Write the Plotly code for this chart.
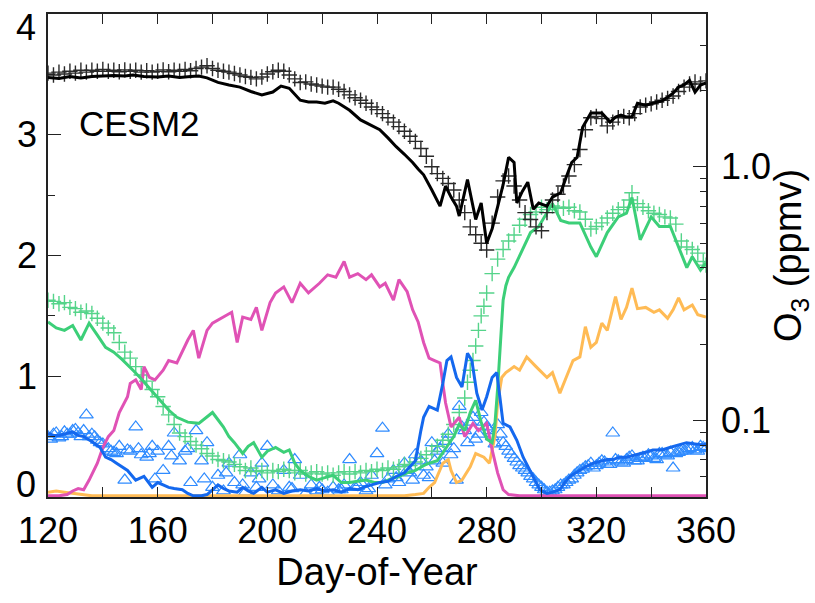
import plotly.graph_objects as go

# ---------------- data ----------------
# O3 (ppmv, right log axis): model line and observations (+)
o3_line_days = [120,124,128,132,136,140,144,148,151,155,160,164,168,172,175,178,182,186,190,194,
                198,202,205,208,212,215,218,221,224,226,230,234,238,241,244,247,250,253,255,257,
                260,263,265,267,269,270,273,276,278,280,282,284,286,288,290,291,293,295,297,299,
                302,304,307,309,311,313,315,318,320,322,325,327,329,331,333,335,338,341,344,346,
                348,350,352,354,356,358,360]
o3_line_vals = [2.25,2.23,2.27,2.24,2.27,2.28,2.29,2.28,2.30,2.27,2.26,2.28,2.25,2.27,2.28,2.24,2.15,2.10,2.06,1.98,
                1.92,1.97,2.08,2.04,1.83,1.80,1.80,1.78,1.82,1.78,1.67,1.53,1.45,1.40,1.30,1.20,1.12,1.04,0.98,0.93,
                0.81,0.70,0.84,0.76,0.70,0.64,0.89,0.62,0.72,0.50,0.57,0.70,0.85,1.09,1.04,0.72,0.80,0.87,0.68,0.72,
                0.70,0.76,0.79,0.91,1.04,1.09,1.43,1.63,1.63,1.63,1.50,1.57,1.60,1.57,1.57,1.78,1.75,1.78,1.82,1.88,
                1.95,2.06,2.10,2.19,1.97,2.10,2.14]

o3_obs_days = list(range(120, 361, 2))
o3_obs_vals = [2.34,2.30,2.36,2.32,2.38,2.34,2.40,2.36,2.40,2.38,
               2.42,2.38,2.40,2.37,2.41,2.38,2.40,2.36,2.39,2.36,
               2.38,2.41,2.37,2.40,2.38,2.42,2.39,2.44,2.47,2.50,
               2.44,2.40,2.38,2.36,2.33,2.30,2.27,2.25,2.22,2.26,
               2.32,2.37,2.40,2.38,2.30,2.22,2.15,2.16,2.12,2.10,
               2.08,2.06,2.06,2.02,1.98,1.92,1.87,1.83,1.78,1.72,
               1.68,1.62,1.56,1.50,1.44,1.38,1.32,1.26,1.18,1.10,
               1.00,0.94,0.90,0.86,0.81,0.74,0.66,0.58,0.54,0.50,
               0.47,0.60,0.76,0.88,0.92,0.84,0.74,0.66,0.62,0.58,
               0.56,0.66,0.74,0.78,0.84,0.92,1.02,1.17,1.40,1.56,
               1.58,1.55,1.45,1.50,1.56,1.58,1.56,1.62,1.72,1.75,
               1.77,1.80,1.83,1.86,1.90,1.98,2.06,2.12,2.16,2.12,
               2.18]

# green: model line and observations (+), left axis
green_line_days = [120,123,126,129,132,135,138,141,144,147,151,154,157,161,164,167,171,175,178,180,
                   182,184,186,188,191,193,195,198,200,203,206,208,210,212,215,218,221,224,227,230,
                   233,236,239,242,245,248,251,254,257,259,262,265,268,270,272,274,276,278,280,282,
                   283,284,285,286,287,288,290,293,296,299,302,304,307,310,314,318,320,324,328,331,
                   333,336,340,343,347,349,353,355,358,360]
green_line_vals = [1.45,1.40,1.38,1.42,1.30,1.44,1.34,1.24,1.20,1.14,1.05,0.98,0.90,0.80,0.72,0.66,0.62,0.61,0.66,0.70,
                   0.64,0.58,0.50,0.45,0.36,0.42,0.45,0.33,0.38,0.41,0.37,0.39,0.28,0.22,0.17,0.14,0.16,0.18,0.12,0.12,
                   0.13,0.14,0.12,0.12,0.15,0.17,0.20,0.22,0.26,0.28,0.30,0.40,0.50,0.60,0.55,0.70,0.80,0.62,0.48,0.45,
                   0.60,0.90,1.30,1.63,1.75,1.82,1.90,2.05,2.19,2.24,2.35,2.43,2.29,2.27,2.27,2.07,1.99,2.19,2.32,2.35,
                   2.48,2.13,2.32,2.24,2.24,2.13,1.90,1.99,1.88,1.94]

green_obs_days = [120,122,124,126,128,130,132,134,136,138,140,142,144,146,148,150,152,154,156,158,
                  160,162,164,166,168,170,172,174,176,178,180,182,184,186,188,190,192,194,196,198,
                  200,202,204,206,208,210,212,214,216,218,220,222,224,226,228,230,232,234,236,238,
                  240,242,244,246,248,250,252,254,256,258,260,262,264,266,268,270,272,273,274,275,
                  276,277,278,279,280,282,284,286,288,290,292,294,296,298,300,302,304,306,308,310,
                  312,314,316,318,320,322,324,326,328,330,332,333,335,337,339,341,343,345,347,349,
                  351,353,355,357,359,360]
green_obs_vals = [1.63,1.62,1.60,1.61,1.57,1.56,1.53,1.54,1.52,1.48,1.44,1.40,1.36,1.28,1.20,1.15,1.08,1.01,0.96,0.89,
                  0.83,0.75,0.68,0.60,0.53,0.50,0.46,0.43,0.40,0.36,0.34,0.31,0.30,0.29,0.27,0.25,0.22,0.24,0.21,0.22,
                  0.20,0.22,0.21,0.23,0.22,0.20,0.22,0.19,0.20,0.21,0.19,0.20,0.18,0.20,0.21,0.19,0.21,0.20,0.22,0.21,
                  0.23,0.22,0.24,0.23,0.25,0.27,0.26,0.29,0.32,0.35,0.38,0.42,0.47,0.52,0.60,0.70,0.82,0.95,1.05,1.13,
                  1.25,1.38,1.50,1.58,1.69,1.85,1.97,2.05,2.12,2.17,2.25,2.30,2.34,2.36,2.40,2.38,2.41,2.40,2.39,2.40,
                  2.37,2.36,2.30,2.22,2.24,2.27,2.31,2.35,2.38,2.40,2.46,2.52,2.43,2.40,2.37,2.35,2.34,2.32,2.31,2.26,
                  2.12,2.07,2.05,2.02,1.95,1.92]

# magenta line, left axis
magenta_days = [120,124,127,129,131,133,135,138,140,142,144,146,149,150,152,154,155,157,159,162,
                164,167,171,173,175,178,180,184,187,189,191,194,196,198,201,203,206,209,212,215,
                219,222,225,228,230,233,236,238,241,243,246,248,251,253,255,257,259,261,263,264,
                265,267,270,272,275,277,280,282,284,286,288,292,300,320,340,360]
magenta_vals = [0.01,0.01,0.02,0.05,0.07,0.06,0.14,0.28,0.41,0.50,0.55,0.70,0.83,0.94,0.97,0.89,1.08,0.99,0.97,1.05,
                1.13,1.11,1.30,1.38,1.15,1.38,1.44,1.49,1.53,1.28,1.49,1.47,1.57,1.38,1.61,1.69,1.74,1.61,1.77,1.69,
                1.77,1.84,1.82,1.95,1.82,1.85,1.80,1.84,1.74,1.77,1.63,1.80,1.70,1.55,1.45,1.28,1.15,1.13,1.11,0.94,
                0.78,0.58,0.66,0.50,0.61,0.55,0.61,0.39,0.20,0.06,0.02,0.01,0.01,0.01,0.01,0.01]

# orange line, left axis
orange_days = [120,123,126,129,132,136,145,160,180,200,220,240,250,254,257,259,261,264,266,267,
               269,271,274,276,279,281,283,284,285.5,287,290,292,294.6,298,302,304,306.7,309,311.5,314,
               316,318,320,322,324,327,329,331,333,335,338,341,343,346,348,350,352,355,357,360]
orange_vals = [0.04,0.05,0.04,0.03,0.02,0.01,0.01,0.01,0.01,0.01,0.01,0.01,0.01,0.02,0.03,0.08,0.12,0.28,0.31,0.22,
               0.12,0.14,0.25,0.36,0.33,0.28,0.50,0.78,0.99,1.03,1.08,1.05,1.16,1.08,0.99,1.03,0.86,0.99,1.13,1.16,
               1.41,1.24,1.28,1.44,1.38,1.66,1.47,1.57,1.73,1.56,1.57,1.53,1.55,1.48,1.55,1.65,1.55,1.59,1.51,1.49]

# blue: model line and observations (triangles), left axis
blue_line_days = [120,122,124,127,129,131,133,136,139,141,143,145,147,149,152,155,158,160,162,164,
                  166,169,171,173,176,178,180,182,184,186,189,191,193,195,198,200,203,206,209,212,
                  215,218,221,224,227,230,233,235,238,241,244,247,250,252,254,256,257,259,262,264,
                  265.5,267,269,271,273,274.6,276.4,278.3,280,282,283.7,284.8,286,288.5,291,293.3,295.8,298.3,299.4,302,
                  304,306.7,308.5,310.4,314,316,318.8,321,324,326,328.6,331,334.8,338,340.6,344,346.8,350,352.9,356,
                  358.9,360]
blue_line_vals = [0.53,0.51,0.51,0.53,0.54,0.51,0.50,0.46,0.41,0.33,0.31,0.28,0.25,0.22,0.14,0.17,0.08,0.12,0.10,0.08,
                  0.07,0.06,0.03,0.01,0.01,0.02,0.06,0.10,0.07,0.05,0.04,0.08,0.05,0.03,0.08,0.04,0.06,0.03,0.05,0.06,
                  0.05,0.07,0.05,0.06,0.04,0.07,0.06,0.08,0.10,0.12,0.13,0.17,0.20,0.25,0.30,0.55,0.66,0.75,0.72,0.94,
                  1.13,1.16,0.99,0.91,1.19,1.13,0.86,0.72,0.83,0.99,1.03,0.83,0.61,0.58,0.47,0.33,0.22,0.12,0.06,0.03,
                  0.04,0.06,0.12,0.17,0.22,0.25,0.28,0.29,0.31,0.31,0.33,0.33,0.35,0.37,0.39,0.39,0.41,0.43,0.45,0.44,
                  0.43,0.44]

blue_obs_days = list(range(120, 361, 2)) + [
    121,123,125,127,129,131,133,135,137,139,143,145,149,153,157,159,165,171,177,185,
    191,197,209,219,227,233,237,243,247,251,253,257,259,261,263,265,267,269,271,273,
    275,277,279,281,283,285,287,289,291,293,295,297,299,301,303,305,307,309,311,313,
    315,317,319,321,323,325,327,329,331,333,335,337,339,341,343,345,347,349,351,353,
    355,357,359]
blue_obs_vals = [0.50,0.52,0.49,0.54,0.52,0.56,0.50,0.68,0.52,0.47,
                 0.44,0.40,0.37,0.42,0.14,0.38,0.58,0.35,0.33,0.42,
                 0.38,0.22,0.42,0.53,0.30,0.38,0.12,0.55,0.30,0.45,
                 0.08,0.18,0.05,0.28,0.12,0.35,0.04,0.20,0.08,0.28,
                 0.42,0.10,0.05,0.22,0.08,0.31,0.18,0.03,0.10,0.05,
                 0.06,0.04,0.08,0.06,0.10,0.31,0.08,0.12,0.05,0.18,
                 0.36,0.57,0.15,0.22,0.12,0.28,0.20,0.35,0.30,0.25,
                 0.45,0.38,0.28,0.52,0.40,0.75,0.55,0.62,0.48,0.70,
                 0.58,0.50,0.60,0.45,0.38,0.32,0.26,0.22,0.17,0.12,
                 0.08,0.04,0.05,0.08,0.10,0.14,0.18,0.22,0.25,0.28,
                 0.26,0.30,0.27,0.53,0.30,0.28,0.33,0.30,0.32,0.33,
                 0.34,0.31,0.36,0.34,0.24,0.37,0.38,0.40,0.39,0.42,
                 0.40] + [
                 0.48,0.53,0.50,0.52,0.55,0.53,0.55,0.50,0.50,0.45,0.38,0.36,0.39,0.40,0.36,0.15,0.34,0.40,0.15,0.20,
                 0.10,0.15,0.07,0.08,0.06,0.09,0.07,0.10,0.16,0.22,0.14,0.18,0.16,0.30,0.40,0.46,0.35,0.14,0.58,0.45,
                 0.66,0.52,0.62,0.55,0.44,0.52,0.42,0.35,0.29,0.24,0.20,0.15,0.10,0.06,0.04,0.06,0.10,0.12,0.15,0.20,
                 0.23,0.26,0.24,0.28,0.29,0.27,0.31,0.29,0.31,0.34,0.30,0.33,0.35,0.32,0.36,0.35,0.37,0.36,0.38,0.39,
                 0.41,0.38,0.41]

x_tickvals = [120, 160, 200, 240, 280, 320, 360]
y_tickvals = [1, 2, 3]
y_end_labels = [(0, "0"), (4, "4")]   # end labels drawn nudged inward
y2_tickvals = [0.1, 1.0]
y2_ticktext = ["0.1", "1.0"]
y2_minor = [0.05, 0.06, 0.07, 0.08, 0.09, 0.2, 0.3, 0.4, 0.5, 0.6, 0.7, 0.8, 0.9, 2, 3, 4]

# ---------------- styles ----------------
BLACK = "#000000"
GREEN = "#3ccf78"
GREEN_OBS = "#55d48a"
MAGENTA = "#e052b5"
ORANGE = "#ffbb55"
BLUE = "#1468ee"
BLUE_OBS = "#2f8bff"
FONT = "Liberation Sans, Arial, Helvetica, sans-serif"
TICK_SIZE = 36
TITLE_SIZE = 38

fig = go.Figure()

# observations (markers) first
fig.add_trace(go.Scatter(x=blue_obs_days, y=blue_obs_vals, mode="markers", yaxis="y",
                         marker=dict(symbol="triangle-up-open", size=12, color=BLUE_OBS,
                                     line=dict(width=1.2, color=BLUE_OBS))))
fig.add_trace(go.Scatter(x=green_obs_days, y=green_obs_vals, mode="markers", yaxis="y",
                         marker=dict(symbol="cross-thin", size=11,
                                     line=dict(width=1.4, color=GREEN_OBS))))
# model lines
fig.add_trace(go.Scatter(x=orange_days, y=orange_vals, mode="lines", yaxis="y",
                         line=dict(color=ORANGE, width=3)))
fig.add_trace(go.Scatter(x=magenta_days, y=magenta_vals, mode="lines", yaxis="y",
                         line=dict(color=MAGENTA, width=3)))
fig.add_trace(go.Scatter(x=green_line_days, y=green_line_vals, mode="lines", yaxis="y",
                         line=dict(color=GREEN, width=3)))
fig.add_trace(go.Scatter(x=blue_line_days, y=blue_line_vals, mode="lines", yaxis="y",
                         line=dict(color=BLUE, width=3)))
# ozone on the right log axis
fig.add_trace(go.Scatter(x=o3_obs_days, y=o3_obs_vals, mode="markers", yaxis="y2",
                         marker=dict(symbol="cross-thin", size=11,
                                     line=dict(width=1.4, color="#2a2a2a"))))
fig.add_trace(go.Scatter(x=o3_line_days, y=o3_line_vals, mode="lines", yaxis="y2",
                         line=dict(color=BLACK, width=3)))

axis_common = dict(showgrid=False, zeroline=False, showline=True, linecolor="#222",
                   linewidth=1.5, ticks="inside", tickcolor="#222", tickwidth=1.3,
                   automargin=False,
                   tickfont=dict(family=FONT, size=TICK_SIZE, color="#000"))

annotations = [dict(text="CESM2", x=0.044, y=0.774, xref="paper", yref="paper",
                    xanchor="left", yanchor="middle", showarrow=False,
                    font=dict(family=FONT, size=35, color="#000"))]
for val, txt in y_end_labels:
    annotations.append(dict(text=txt, x=0, y=val, xref="paper", yref="y",
                            xanchor="right", yanchor="middle", xshift=-10,
                            yshift=13 if val == 0 else -13, showarrow=False,
                            font=dict(family=FONT, size=TICK_SIZE, color="#000")))

fig.update_layout(
    width=815, height=603,
    margin=dict(l=48, r=109, t=14, b=106),
    paper_bgcolor="white", plot_bgcolor="white",
    showlegend=False,
    font=dict(family=FONT, color="#000"),
    xaxis=dict(range=[120, 360], tickmode="array", tickvals=x_tickvals, ticklen=10,
               mirror="allticks", ticklabelstandoff=1,
               minor=dict(dtick=20, tick0=120, ticklen=5, ticks="inside", tickcolor="#222"),
               title=dict(text="Day-of-Year", font=dict(family=FONT, size=TITLE_SIZE, color="#000"),
                          standoff=2),
               **axis_common),
    yaxis=dict(range=[0, 4], tickmode="array", tickvals=y_tickvals,
               ticklen=13, mirror=True, ticklabelstandoff=2,
               minor=dict(tickmode="array", tickvals=[0.5, 1.5, 2.5, 3.5], ticklen=7,
                          ticks="inside", tickcolor="#222"),
               **axis_common),
    yaxis2=dict(type="log", range=[-1.30103, 0.60206], overlaying="y", side="right",
                tickmode="array", tickvals=y2_tickvals, ticktext=y2_ticktext, ticklen=13,
                ticklabelstandoff=6,
                minor=dict(tickmode="array", tickvals=y2_minor, ticklen=6,
                           ticks="inside", tickcolor="#222"),
                title=dict(text="O<sub>3</sub> (ppmv)", font=dict(family=FONT, size=TITLE_SIZE, color="#000"),
                           standoff=10),
                **axis_common),
    annotations=annotations,
)

fig.write_html("out.html")
